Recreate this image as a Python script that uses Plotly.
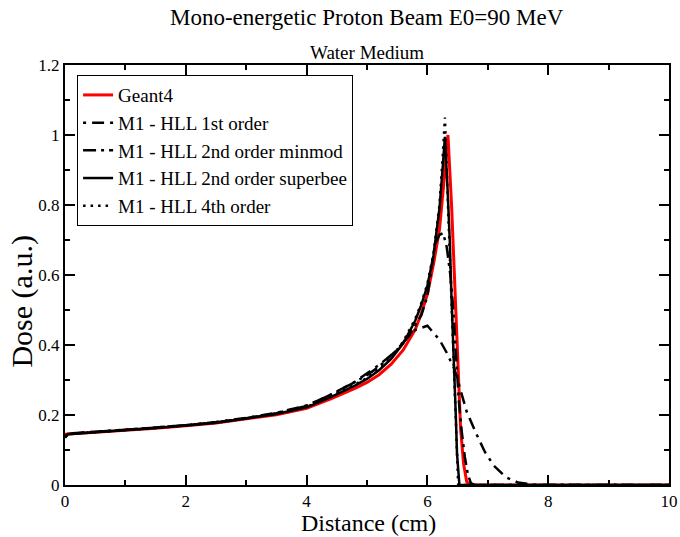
import plotly.graph_objects as go

# ---- data ----
geant4_x = [0, 0.5, 1, 1.5, 2, 2.5, 3, 3.5, 4, 4.4, 4.8, 5.0, 5.2, 5.4, 5.6, 5.8, 5.9, 6.0, 6.1, 6.2, 6.27, 6.34,
            6.4, 6.45, 6.5, 6.55, 6.6, 6.65, 6.7, 8, 10]
geant4_y = [0.145, 0.150, 0.155, 0.162, 0.169, 0.177, 0.189, 0.201, 0.219, 0.246, 0.276, 0.293, 0.315, 0.345, 0.386, 0.445,
            0.49, 0.545, 0.63, 0.73, 0.86, 1.0, 0.80, 0.58, 0.33, 0.16, 0.06, 0.01, 0.0, 0.0, 0.0]

hll1_x = [0, 0.05, 0.5, 1, 1.5, 2, 2.5, 3, 3.5, 4, 4.4, 4.8, 5.0, 5.2, 5.5, 5.75, 6.0, 6.2, 6.32, 6.45, 6.55, 6.65,
          6.8, 6.95, 7.1, 7.3, 7.5, 7.8, 10]
hll1_y = [0.137, 0.147, 0.152, 0.157, 0.164, 0.171, 0.180, 0.192, 0.206, 0.227, 0.258, 0.295, 0.318, 0.343, 0.385, 0.44,
          0.455, 0.415, 0.378, 0.33, 0.27, 0.21, 0.15, 0.095, 0.055, 0.022, 0.007, 0.0, 0.0]

minmod_x = [0, 0.05, 0.5, 1, 1.5, 2, 2.5, 3, 3.5, 4, 4.4, 4.8, 5.0, 5.2, 5.5, 5.7, 5.9, 6.0, 6.05, 6.13, 6.2, 6.26,
            6.32, 6.38, 6.43, 6.48, 6.52, 6.57, 6.62, 6.67, 6.72, 6.78, 10]
minmod_y = [0.137, 0.146, 0.152, 0.157, 0.164, 0.171, 0.179, 0.191, 0.205, 0.226, 0.258, 0.294, 0.314, 0.338, 0.387, 0.427,
            0.485, 0.54, 0.595, 0.69, 0.715, 0.72, 0.68, 0.60, 0.50, 0.36, 0.24, 0.15, 0.08, 0.03, 0.005, 0.0, 0.0]

superbee_x = [0, 0.05, 0.5, 1, 1.5, 2, 2.5, 3, 3.5, 4, 4.4, 4.8, 5.0, 5.2, 5.4, 5.6, 5.8, 5.9, 6.0, 6.1, 6.15, 6.2,
              6.25, 6.29, 6.33, 6.37, 6.40, 6.44, 6.47, 6.49, 6.53, 10]
superbee_y = [0.135, 0.145, 0.151, 0.156, 0.163, 0.170, 0.178, 0.190, 0.203, 0.222, 0.251, 0.284, 0.303, 0.328, 0.360, 0.405,
              0.47, 0.515, 0.57, 0.655, 0.72, 0.79, 0.90, 0.995, 0.86, 0.70, 0.53, 0.36, 0.20, 0.09, 0.0, 0.0]

hll4_x = [0, 0.05, 0.5, 1, 1.5, 2, 2.5, 3, 3.5, 4, 4.4, 4.8, 5.0, 5.2, 5.4, 5.6, 5.8, 5.9, 6.0, 6.1, 6.15, 6.2,
          6.25, 6.29, 6.33, 6.37, 6.41, 6.45, 6.48, 6.51, 10]
hll4_y = [0.137, 0.146, 0.151, 0.156, 0.163, 0.170, 0.178, 0.190, 0.204, 0.223, 0.253, 0.287, 0.306, 0.331, 0.363, 0.41,
          0.475, 0.52, 0.575, 0.66, 0.725, 0.80, 0.93, 1.05, 0.85, 0.65, 0.44, 0.26, 0.09, 0.0, 0.0]

x_tickvals = [0, 2, 4, 6, 8, 10]
y_tickvals = [0, 0.2, 0.4, 0.6, 0.8, 1.0, 1.2]
y_ticktext = ["0", "0.2", "0.4", "0.6", "0.8", "1", "1.2"]

FONT = "Liberation Serif, Times New Roman, serif"

fig = go.Figure()
fig.add_trace(go.Scatter(x=geant4_x, y=geant4_y, mode="lines", name="Geant4",
                         line=dict(color="#ff0000", width=3)))
fig.add_trace(go.Scatter(x=hll1_x, y=hll1_y, mode="lines", name="M1 - HLL 1st order",
                         line=dict(color="black", width=2.5, dash="3px,6px,12px,6px")))
fig.add_trace(go.Scatter(x=minmod_x, y=minmod_y, mode="lines", name="M1 - HLL 2nd order minmod",
                         line=dict(color="black", width=2.5, dash="13px,5px,3px,5px")))
fig.add_trace(go.Scatter(x=superbee_x, y=superbee_y, mode="lines", name="M1 - HLL 2nd order superbee",
                         line=dict(color="black", width=2.5)))
fig.add_trace(go.Scatter(x=hll4_x, y=hll4_y, mode="lines", name="M1 - HLL 4th order",
                         line=dict(color="black", width=2.5, dash="2.5px,5px")))

axis_common = dict(showline=True, linecolor="black", linewidth=2, mirror="allticks",
                   ticks="inside", ticklen=10, tickwidth=1.5, tickcolor="black",
                   showgrid=False, zeroline=False, automargin=False,
                   tickfont=dict(family=FONT, size=17, color="black"))

fig.update_xaxes(range=[0, 10], tickvals=x_tickvals,
                 minor=dict(dtick=1, ticks="inside", ticklen=5, tickwidth=1.5, tickcolor="black"),
                 **axis_common)
fig.update_yaxes(range=[0, 1.2], tickvals=y_tickvals, ticktext=y_ticktext,
                 minor=dict(dtick=0.1, ticks="inside", ticklen=5, tickwidth=1.5, tickcolor="black"),
                 **axis_common)

fig.update_layout(
    width=680, height=537,
    margin=dict(l=65, r=11, t=65, b=52),
    plot_bgcolor="white", paper_bgcolor="white",
    font=dict(family=FONT, color="black"),
    showlegend=True,
    legend=dict(x=0.02, y=0.976, xanchor="left", yanchor="top",
                bgcolor="white", bordercolor="black", borderwidth=1,
                font=dict(family=FONT, size=19, color="black")),
    annotations=[
        dict(text="Mono-energetic Proton Beam E0=90 MeV", xref="paper", yref="paper",
             x=0.5, y=1.114, xanchor="center", yanchor="middle", showarrow=False,
             font=dict(family=FONT, size=23, color="black")),
        dict(text="Water Medium", xref="paper", yref="paper",
             x=0.5, y=1.029, xanchor="center", yanchor="middle", showarrow=False,
             font=dict(family=FONT, size=19, color="black")),
        dict(text="Distance (cm)", xref="paper", yref="paper",
             x=0.503, y=-0.09, xanchor="center", yanchor="middle", showarrow=False,
             font=dict(family=FONT, size=24, color="black")),
        dict(text="Dose (a.u.)", xref="paper", yref="paper", textangle=-90,
             x=-0.071, y=0.437, xanchor="center", yanchor="middle", showarrow=False,
             font=dict(family=FONT, size=30, color="black")),
    ],
)

fig.write_html("out.html", config={"displayModeBar": False},
               post_script="document.body.style.margin='0';document.body.style.overflow='hidden';")
